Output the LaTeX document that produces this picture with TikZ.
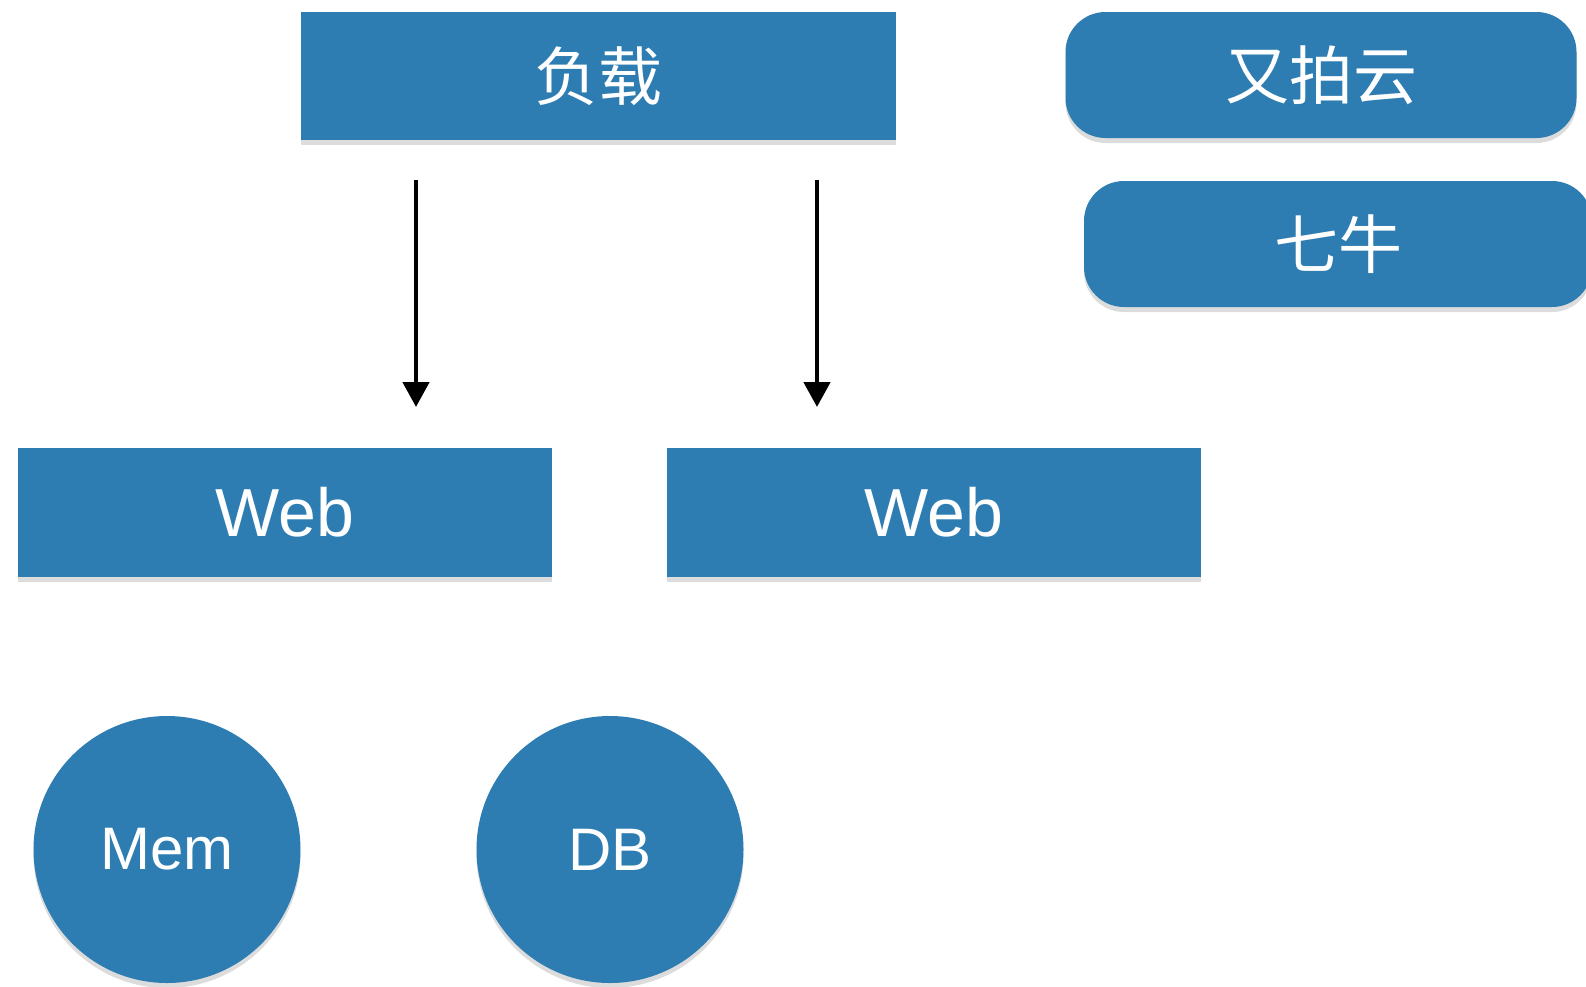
\documentclass[tikz,border=0pt]{standalone}
\usepackage{fontspec}
\setmainfont{Liberation Sans}
\newfontfamily\zhfont{Noto Sans CJK SC}
\usetikzlibrary{arrows.meta,shadows}
\definecolor{boxblue}{RGB}{46,125,178}
\tikzset{
  box/.style={fill=boxblue,text=white,inner sep=0pt,
    drop shadow={opacity=.28,shadow xshift=0pt,shadow yshift=-2.5pt}},
  flatbox/.style={box,rectangle,minimum height=64pt},
  roundbox/.style={box,rectangle,rounded corners=20pt,minimum height=63pt},
  store/.style={box,circle,minimum size=133.5pt,font=\fontsize{30}{30}\selectfont},
  zhtext/.style={font=\zhfont\fontsize{32}{32}\selectfont},
  webtext/.style={font=\fontsize{34}{34}\selectfont},
  arr/.style={line width=2.4pt,-{Triangle[width=13pt,length=12.5pt]}}
}

\begin{document}
\begin{tikzpicture}[x=0.5pt,y=-0.5pt]
\useasboundingbox (0,0) rectangle (1586,986);

% balancer and the two cloud stores
\node[flatbox,zhtext,minimum width=297.5pt] (lb) at (598,76) {负载};
\node[roundbox,zhtext,minimum width=255.5pt] (upyun) at (1321,75) {又拍云};
\node[roundbox,zhtext,minimum width=254pt] (qiniu) at (1338,244) {七牛};

% web servers
\node[flatbox,webtext,minimum width=267pt,minimum height=64.5pt] (web1) at (285,512.5) {Web};
\node[flatbox,webtext,minimum width=267pt,minimum height=64.5pt] (web2) at (934,512.5) {Web};

% cache and database
\node[store] (mem) at (167,849.5) {Mem};
\node[store] (db) at (610,849.5) {DB};

\coordinate (l1) at (416,180); \coordinate (w1) at (416,407);
\coordinate (l2) at (817,180); \coordinate (w2) at (817,407);
\draw[arr] (l1) -- (w1);
\draw[arr] (l2) -- (w2);
\end{tikzpicture}
\end{document}
